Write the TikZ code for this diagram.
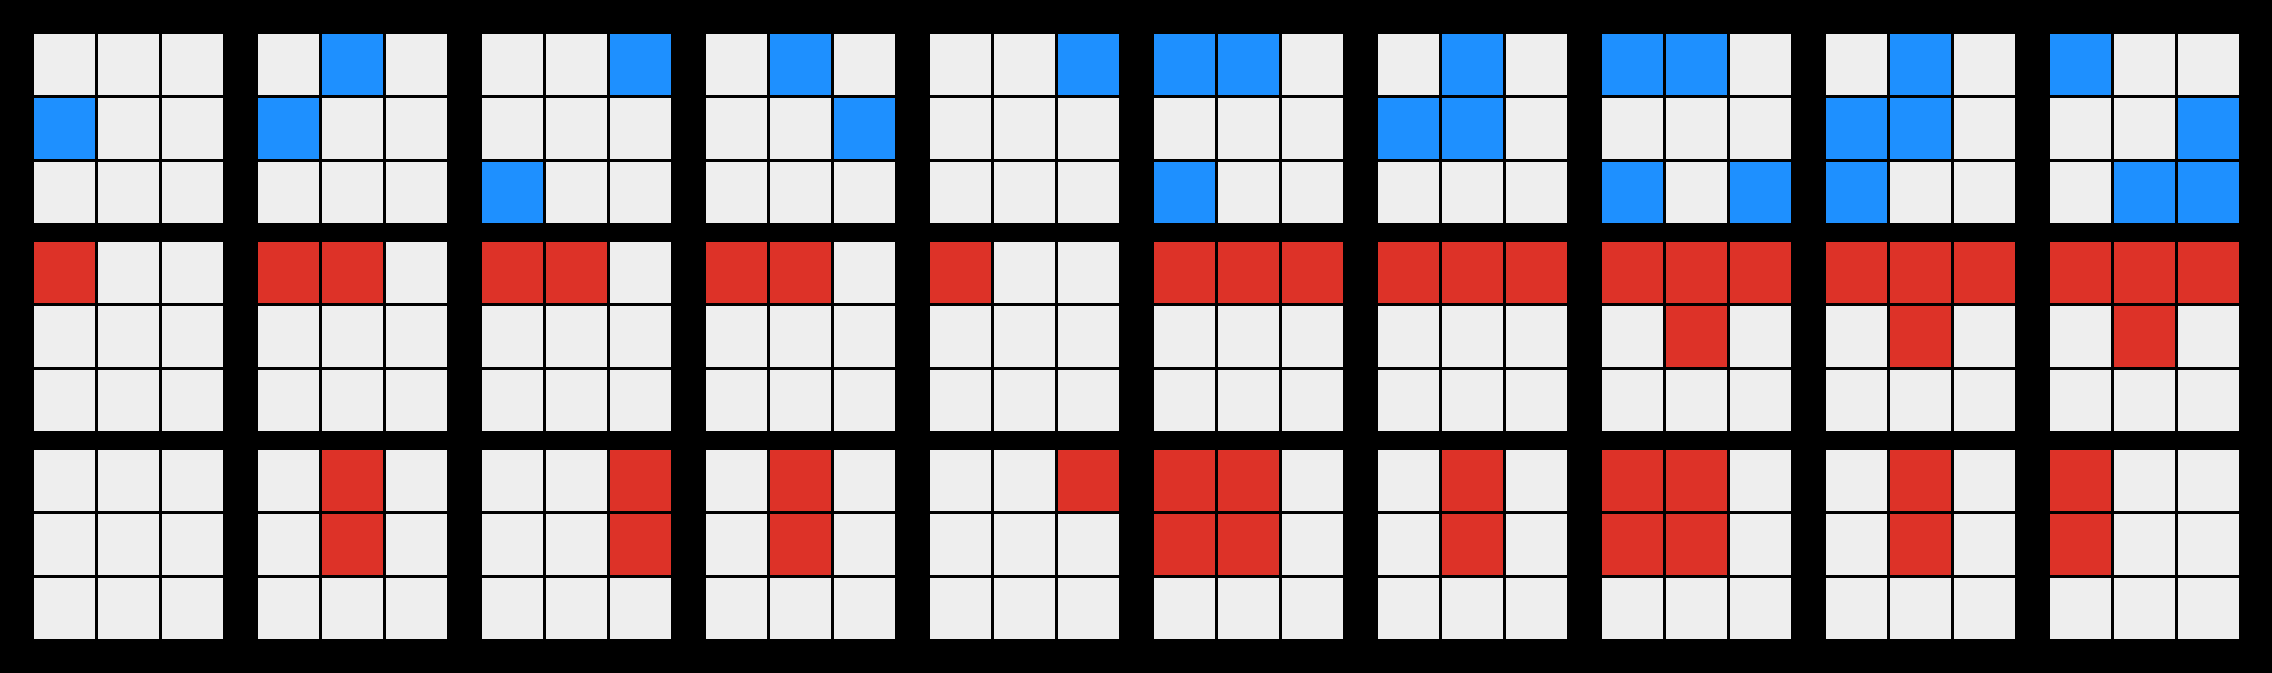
\documentclass[tikz,border=0pt]{standalone}
\definecolor{cellgray}{HTML}{EEEEEE}
\definecolor{cellblue}{HTML}{1E90FF}
\definecolor{cellred}{HTML}{DD3228}

\begin{document}
\begin{tikzpicture}[
    x=0.01cm, y=-0.01cm,
    % Define the style for the cells
    cell/.style={rectangle, minimum size=0.61cm, inner sep=0pt, outer sep=0pt, fill=cellgray},
    bluecell/.style={cell, fill=cellblue},
    redcell/.style={cell, fill=cellred}
]

    % background
    \useasboundingbox (0,0) rectangle (2272,672);
    \fill[black] (-10,-10) rectangle (2282,682);

    % empty grids
    \foreach \g in {0,1,2} {
        \foreach \k in {0,...,9} {
            \foreach \r in {0,1,2} {
                \foreach \c in {0,1,2} {
                    \node[cell] (g\g-\k-\r\c) at ({64.5+224*\k+64*\c}, {64.5+208*\g+64*\r}) {};
                }
            }
        }
    }

    % top row (blue)
    \foreach \k/\cells in {0/{4}, 1/{2,4}, 2/{3,7}, 3/{2,6}, 4/{3},
                           5/{1,2,7}, 6/{2,4,5}, 7/{1,2,7,9}, 8/{2,4,5,7}, 9/{1,6,8,9}} {
        \foreach \n in \cells {
            \pgfmathtruncatemacro{\r}{(\n-1)/3}
            \pgfmathtruncatemacro{\c}{mod(\n-1,3)}
            \node[bluecell] (b0-\k-\n) at (g0-\k-\r\c) {};
        }
    }

    % middle row (red)
    \foreach \k/\cells in {0/{1}, 1/{1,2}, 2/{1,2}, 3/{1,2}, 4/{1},
                           5/{1,2,3}, 6/{1,2,3}, 7/{1,2,3,5}, 8/{1,2,3,5}, 9/{1,2,3,5}} {
        \foreach \n in \cells {
            \pgfmathtruncatemacro{\r}{(\n-1)/3}
            \pgfmathtruncatemacro{\c}{mod(\n-1,3)}
            \node[redcell] (r1-\k-\n) at (g1-\k-\r\c) {};
        }
    }

    % bottom row (red)
    \foreach \k/\cells in {1/{2,5}, 2/{3,6}, 3/{2,5}, 4/{3},
                           5/{1,2,4,5}, 6/{2,5}, 7/{1,2,4,5}, 8/{2,5}, 9/{1,4}} {
        \foreach \n in \cells {
            \pgfmathtruncatemacro{\r}{(\n-1)/3}
            \pgfmathtruncatemacro{\c}{mod(\n-1,3)}
            \node[redcell] (r2-\k-\n) at (g2-\k-\r\c) {};
        }
    }

\end{tikzpicture}
\end{document}
